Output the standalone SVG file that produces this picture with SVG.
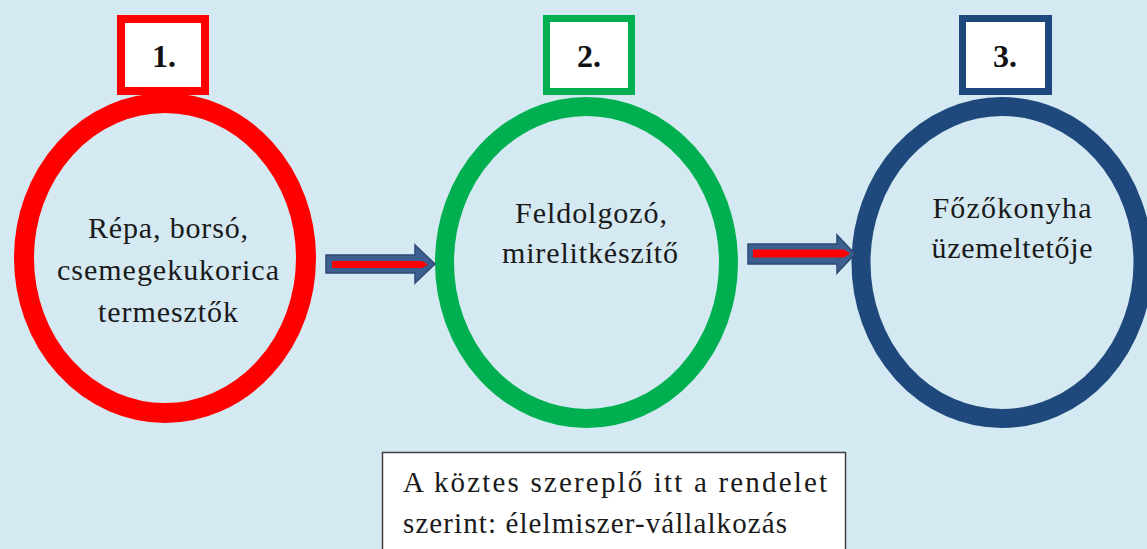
<svg xmlns="http://www.w3.org/2000/svg" width="1147" height="549" viewBox="0 0 1147 549">
<style>
.lbl{font-size:30px;fill:#1a1a1a;text-anchor:middle}
.num{font-size:32px;font-weight:bold;fill:#111;text-anchor:middle}
.nt{font-size:29px;fill:#1a1a1a}
.ring{fill:none}
.tag{fill:#fff}
.arrow{fill:#3d5f8f;stroke:#2c4a75;stroke-width:1.5}
.inner{fill:#ff0000}
</style>
<rect x="0" y="0" width="1147" height="549" fill="#d4e9f1"/>
<g id="node1">
<ellipse class="ring" cx="165" cy="258" rx="141" ry="155" stroke="#ff0000" stroke-width="20"/>
<rect class="tag" x="121" y="19" width="84" height="72" stroke="#ff0000" stroke-width="8"/>
<text class="num" style="font-family:'Liberation Serif',serif !important" x="164" y="67">1.</text>
<text class="lbl" style="font-family:'Liberation Serif',serif !important" x="168" y="238" textLength="160" lengthAdjust="spacing">Répa, borsó,</text>
<text class="lbl" style="font-family:'Liberation Serif',serif !important" x="168" y="280" textLength="222" lengthAdjust="spacing">csemegekukorica</text>
<text class="lbl" style="font-family:'Liberation Serif',serif !important" x="168" y="322" textLength="140" lengthAdjust="spacing">termesztők</text>
</g>
<g id="node2">
<ellipse class="ring" cx="586.5" cy="262.5" rx="142" ry="156" stroke="#00b050" stroke-width="19"/>
<rect class="tag" x="546.5" y="18.5" width="85" height="73" stroke="#00b050" stroke-width="7"/>
<text class="num" style="font-family:'Liberation Serif',serif !important" x="589" y="67">2.</text>
<text class="lbl" style="font-family:'Liberation Serif',serif !important" x="591" y="223" textLength="152" lengthAdjust="spacing">Feldolgozó,</text>
<text class="lbl" style="font-family:'Liberation Serif',serif !important" x="590" y="263" textLength="176" lengthAdjust="spacing">mirelitkészítő</text>
</g>
<g id="node3">
<ellipse class="ring" cx="1002" cy="262.5" rx="141" ry="156" stroke="#1f497d" stroke-width="19"/>
<rect class="tag" x="962.5" y="18.5" width="86" height="73" stroke="#1f497d" stroke-width="7"/>
<text class="num" style="font-family:'Liberation Serif',serif !important" x="1005" y="67">3.</text>
<text class="lbl" style="font-family:'Liberation Serif',serif !important" x="1012" y="218" textLength="159" lengthAdjust="spacing">Főzőkonyha</text>
<text class="lbl" style="font-family:'Liberation Serif',serif !important" x="1012" y="258" textLength="161" lengthAdjust="spacing">üzemeltetője</text>
</g>
<g id="connectors">
<path class="arrow" d="M326,255 H415 V245 L435,264 L415,283 V273 H326 Z"/>
<path class="inner" d="M332,261 H422 L428,264.5 L422,268 H332 Z"/>
<path class="arrow" d="M748,244 H837 V235 L855,254 L837,273 V264 H748 Z"/>
<path class="inner" d="M753,249.5 H844 L850,253.5 L844,257.5 H753 Z"/>
</g>
<g id="note">
<rect x="382.5" y="452.5" width="463" height="110" fill="#fff" stroke="#404040" stroke-width="1.5"/>
<text class="nt" style="font-family:'Liberation Serif',serif !important" x="403" y="492" textLength="424" lengthAdjust="spacing">A köztes szereplő itt a rendelet</text>
<text class="nt" style="font-family:'Liberation Serif',serif !important" x="403" y="533" textLength="384" lengthAdjust="spacing">szerint: élelmiszer-vállalkozás</text>
</g>
</svg>
